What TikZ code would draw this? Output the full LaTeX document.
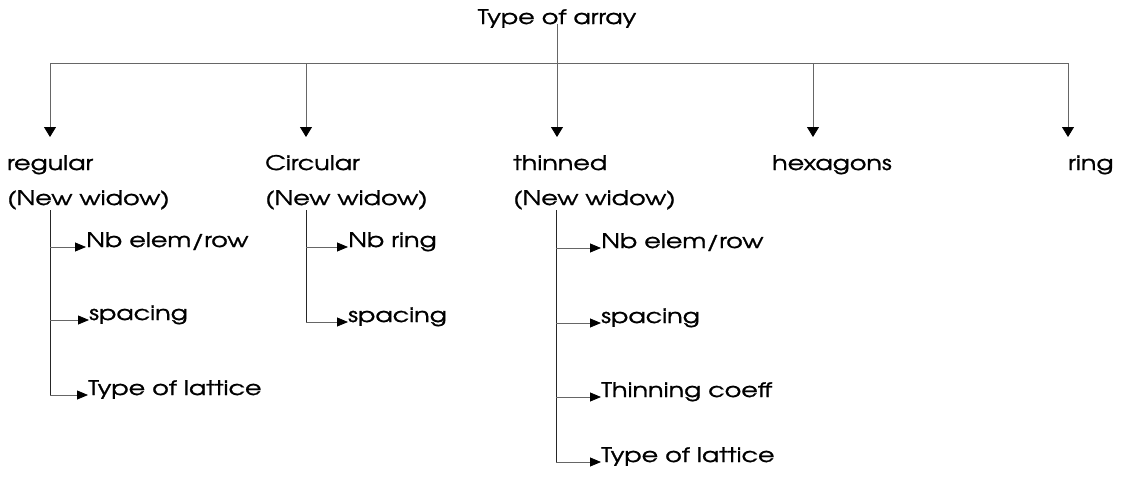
\documentclass[tikz,border=0pt]{standalone}
\usepackage{fontspec}
\setmainfont{texgyreadventor-regular.otf}[FakeStretch=1.27,FakeBold=1.2]
\usetikzlibrary{arrows.meta}
\begin{document}
\begin{tikzpicture}[x=1pt,y=-1pt,
  lbl/.style={inner sep=0pt, anchor=base west, font=\fontsize{20}{24}\selectfont},
  trunk/.style={draw=black!60, line width=0.8pt},
  down/.style={trunk, -{Triangle[length=10pt,width=12pt,color=black,fill=black]}},
  sub/.style={draw=black!85, line width=1pt},
  branch/.style={draw=black!60, line width=0.8pt, -{Triangle[length=11pt,width=9pt,color=black,fill=black]}}]
\useasboundingbox (0,0) rectangle (1128,479);

% root
\node[lbl, anchor=base] (root) at (557,24) {Type of array};

% first level
\node[lbl] (regular)  at (7,170)    {regular};
\node[lbl] (nw1)      at (7,205)    {(New widow)};
\node[lbl] (circular) at (265,170)  {Circular};
\node[lbl] (nw2)      at (265,205)  {(New widow)};
\node[lbl] (thinned)  at (513,170)  {thinned};
\node[lbl] (nw3)      at (513,205)  {(New widow)};
\node[lbl] (hexagons) at (772,170)  {hexagons};
\node[lbl] (ring)     at (1068,170) {ring};

% arrow tips above the first-level labels
\coordinate (t1) at (50,137);
\coordinate (t2) at (306,137);
\coordinate (t3) at (557,137);
\coordinate (t4) at (813,137);
\coordinate (t5) at (1068,137);
\coordinate (bar) at (0,63);

\draw[trunk] (t1 |- bar) -- (t5 |- bar);
\draw[down] (root.base) -- (t3);
\foreach \t in {t1,t2,t4,t5}
  \draw[down] (\t |- bar) -- (\t);

% regular parameters
\node[lbl] (a1) at (86,247) {Nb elem/row};
\node[lbl] (a2) at (89,320) {spacing};
\node[lbl] (a3) at (88,395) {Type of lattice};
\coordinate (s1) at (50,210);
\draw[sub] (s1) -- (s1 |- a3.base);
\foreach \n in {a1,a2,a3}
  \draw[branch] (s1 |- \n.base) -- (\n.base west);

% circular parameters
\node[lbl] (b1) at (348,247) {Nb ring};
\node[lbl] (b2) at (348,322) {spacing};
\coordinate (s2) at (306,210);
\draw[sub] (s2) -- (s2 |- b2.base);
\foreach \n in {b1,b2}
  \draw[branch] (s2 |- \n.base) -- (\n.base west);

% thinned parameters
\node[lbl] (c1) at (601,248) {Nb elem/row};
\node[lbl] (c2) at (601,323) {spacing};
\node[lbl] (c3) at (601,397) {Thinning coeff};
\node[lbl] (c4) at (601,462) {Type of lattice};
\coordinate (s3) at (556,210);
\draw[sub] (s3) -- (s3 |- c4.base);
\foreach \n in {c1,c2,c3,c4}
  \draw[branch] (s3 |- \n.base) -- (\n.base west);
\end{tikzpicture}
\end{document}
